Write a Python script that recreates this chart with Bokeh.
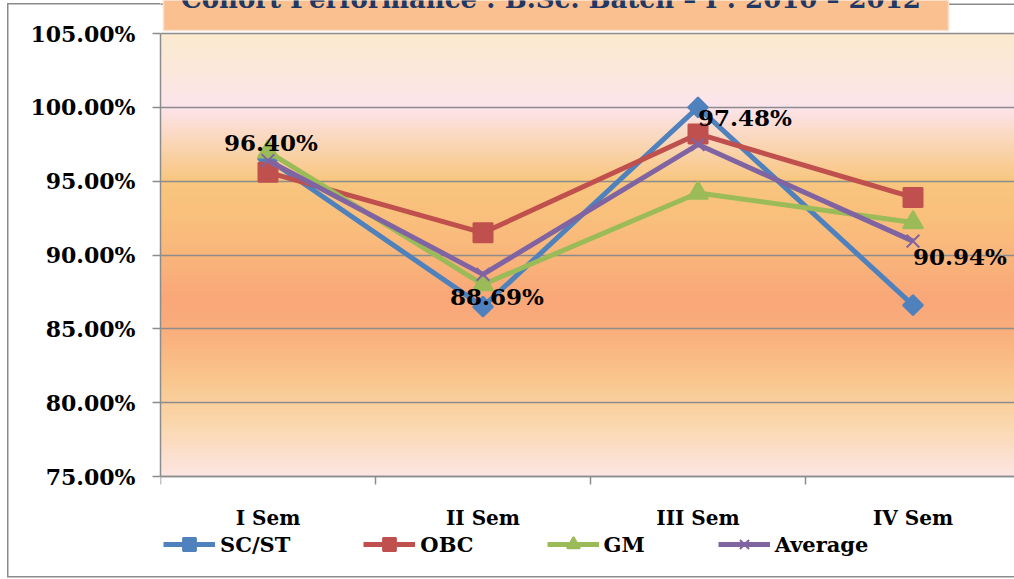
import numpy as np
from bokeh.plotting import figure
from bokeh.models import (Range1d, FixedTicker, PrintfTickFormatter, Legend, LegendItem,
                          ColumnDataSource)
from bokeh.core.properties import value
from bokeh.embed import file_html
from bokeh.resources import INLINE

# ---------------- data ----------------
categories = ["I Sem", "II Sem", "III Sem", "IV Sem"]
sc_st = [96.5, 86.5, 100.0, 86.6]
obc = [95.6, 91.5, 98.2, 93.9]
gm = [97.0, 88.0, 94.2, 92.2]
average = [96.40, 88.69, 97.48, 90.94]
series_names = ["SC/ST", "OBC", "GM", "Average"]
y_ticks = [75, 80, 85, 90, 95, 100, 105]
title_text = "Cohort Performance  : B.Sc. Batch \u2013 I : 2010 \u2013 2012"

# ---------------- style / layout (pixels) ----------------
W, H = 1014, 579
FRAME_LEFT = 160          # plot area left edge
PLOT_TOP, PLOT_BOTTOM = 33, 476   # pixel rows of 105 % and 75 %
BOTTOM_BORDER = 12
CAT_PX = 215
FONT = "DejaVu Serif"
GRAY = "#8C8C8C"
colors = ["#4F81BD", "#C0504D", "#9BBB59", "#8064A2"]
markers = ["square", "square", "triangle", "x"]
marker_angles = [np.pi / 4, 0, 0, 0]
marker_sizes = [14, 19, 20, 18]
label_offsets = [(3, -18), (14, 22), (47, -27), (47, 15)]

PXU = (PLOT_BOTTOM - PLOT_TOP) / (y_ticks[-1] - y_ticks[0])
frame_bottom = H - BOTTOM_BORDER


def xd(px):  # pixel column -> data x
    return (px - FRAME_LEFT) / CAT_PX


def yd(py):  # pixel row -> data y
    return y_ticks[-1] - (py - PLOT_TOP) / PXU


x_pos = [i + 0.5 for i in range(len(categories))]
x_end = xd(W)

p = figure(width=W, height=H, output_backend="svg", toolbar_location=None,
           x_range=Range1d(0, x_end), y_range=Range1d(yd(frame_bottom), yd(0)),
           min_border_left=FRAME_LEFT, min_border_right=0,
           min_border_top=0, min_border_bottom=BOTTOM_BORDER)
p.outline_line_color = None
p.background_fill_color = "white"
p.border_fill_color = None
# thin outer chart border (left, top-left and bottom pieces) painted behind the canvas
line = "linear-gradient(#8C8C8C,#8C8C8C)"
p.styles = {"background": (f"{line} 7px 3px / 1.5px 574px no-repeat, "
                           f"{line} 7px 3px / 160px 1.5px no-repeat, "
                           f"{line} 7px 576px / 1010px 1.5px no-repeat, white")}

# gradient background of the plot area (horizontal bands)
stop_v = [75, 78.8, 81.5, 84.2, 86.9, 89.6, 92.3, 95.05, 97.75, 100.1, 102.5, 105]
stop_c = [(252, 230, 228), (250, 214, 170), (249, 198, 142), (249, 178, 126),
          (249, 166, 120), (249, 180, 122), (249, 190, 124), (248, 198, 126),
          (250, 214, 185), (252, 228, 236), (251, 232, 220), (250, 234, 206)]
edges = np.linspace(y_ticks[0], y_ticks[-1], 151)
mids = (edges[:-1] + edges[1:]) / 2
band_cols = ["#%02x%02x%02x" % tuple(int(round(np.interp(m, stop_v, [c[k] for c in stop_c])))
                                     for k in range(3)) for m in mids]
p.quad(left=0, right=x_end + 1, bottom=edges[:-1], top=edges[1:],
       fill_color=band_cols, line_color=band_cols, line_width=1, level="image")

# grid
p.xgrid.visible = False
p.ygrid.ticker = FixedTicker(ticks=y_ticks)
p.ygrid.grid_line_color = GRAY
p.ygrid.grid_line_width = 1.5

# y axis
p.yaxis.ticker = FixedTicker(ticks=y_ticks)
p.yaxis.bounds = (y_ticks[0], y_ticks[-1])
p.yaxis.formatter = PrintfTickFormatter(format="%.2f%%")
p.yaxis.major_label_text_font = FONT
p.yaxis.major_label_text_font_style = "bold"
p.yaxis.major_label_text_font_size = "22px"
p.yaxis.major_label_text_color = "black"
p.yaxis.major_label_standoff = 17
p.yaxis.major_tick_out = 8
p.yaxis.major_tick_in = 0
p.yaxis.minor_tick_line_color = None
p.yaxis.axis_line_color = GRAY
p.yaxis.axis_line_width = 1.5
p.yaxis.major_tick_line_color = GRAY
p.yaxis.major_tick_line_width = 1.5

# x axis: line at 75 %, ticks between categories
p.xaxis.fixed_location = y_ticks[0]
p.xaxis.ticker = FixedTicker(ticks=[], minor_ticks=list(range(len(categories) + 1)))
p.xaxis.major_label_standoff = 0
p.xaxis.major_tick_out = 0
p.xaxis.major_tick_in = 0
p.xaxis.minor_tick_out = 8
p.xaxis.minor_tick_in = 0
p.xaxis.minor_tick_line_color = GRAY
p.xaxis.minor_tick_line_width = 1.5
p.xaxis.axis_line_color = GRAY
p.xaxis.axis_line_width = 1.5

# category labels under the axis
p.text(x=x_pos, y=[yd(517)] * len(categories), text=categories,
       text_font=value(FONT), text_font_style="bold", text_font_size="20px",
       text_color="black", text_align="center", text_baseline="middle")

# series
all_series = [sc_st, obc, gm, average]
items = []
for name, vals, col, mk, ang, ms in zip(series_names, all_series, colors, markers,
                                        marker_angles, marker_sizes):
    src = ColumnDataSource(dict(x=x_pos, y=vals))
    lr = p.line("x", "y", source=src, line_color=col, line_width=5)
    sr = p.scatter("x", "y", source=src, marker=mk, size=ms, angle=ang,
                   fill_color=col, line_color=col, line_width=2)
    items.append(LegendItem(label=name, renderers=[lr, sr]))

# data labels for Average
lab_src = ColumnDataSource(dict(
    x=x_pos, y=average, t=["%.2f%%" % v for v in average],
    dx=[o[0] for o in label_offsets], dy=[o[1] for o in label_offsets]))
p.text("x", "y", text="t", source=lab_src, x_offset="dx", y_offset="dy",
       text_font=value(FONT), text_font_style="bold", text_font_size="23px",
       text_color="black", text_align="center", text_baseline="middle")

# legend (inside the tall frame, below the axis labels)
LEG_H = 32
legend = Legend(items=items, orientation="horizontal",
                location=(3, frame_bottom - (544 - LEG_H / 2) - LEG_H),
                glyph_width=52, glyph_height=LEG_H, label_standoff=5, spacing=73,
                padding=0, margin=0, border_line_color=None, background_fill_alpha=0,
                label_text_font=FONT, label_text_font_style="bold",
                label_text_font_size="21px", label_text_color="black")
p.add_layout(legend)

# top edge of the outer chart border inside the plot area
p.segment(x0=[xd(FRAME_LEFT)], y0=[yd(3.75)], x1=[x_end + 1], y1=[yd(3.75)],
          line_color=GRAY, line_width=1.5)

# title box and (top-clipped) title
p.quad(left=[xd(163)], right=[xd(948)], bottom=[yd(30)], top=[yd(-10)],
       fill_color="#FAC090", line_color="#FCE0CB", line_width=1.5)
p.text(x=[xd(555)], y=[yd(-2)], text=[title_text], text_font=value(FONT),
       text_font_style="bold", text_font_size="26px", text_color="#1F3864",
       text_align="center", text_baseline="alphabetic")

open("out.html", "w").write(file_html(p, INLINE))
